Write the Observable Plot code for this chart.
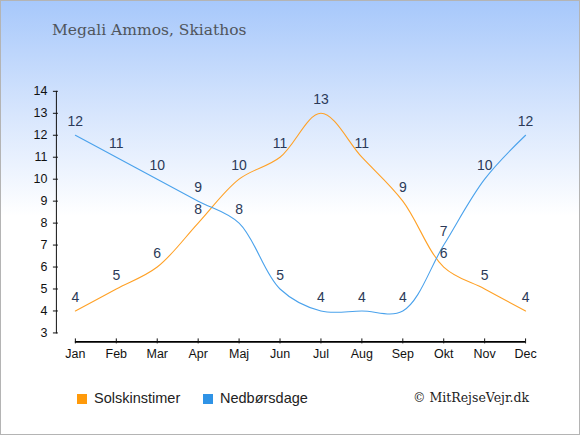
<!DOCTYPE html>
<html>
<head>
<meta charset="utf-8">
<script src="https://cdn.jsdelivr.net/npm/d3@7"></script>
<script src="https://cdn.jsdelivr.net/npm/@observablehq/plot@0.6"></script>
<style>
  html, body { margin: 0; padding: 0; }
  #wrap {
    position: relative; width: 578px; height: 433px;
    border: 1px solid #b4b4b4;
    background: linear-gradient(#a7c8fb 0px, #d6e5fd 110px, #ffffff 215px, #ffffff 100%);
    overflow: hidden;
  }
  #title {
    position: absolute; left: 51px; top: 20px;
    font-family: "DejaVu Serif", serif; font-size: 15.5px; color: #50555c;
  }
  #chart { position: absolute; left: -1px; top: -1px; }
  .leg { position: absolute; top: 389px; font-family: "Liberation Sans", Arial, sans-serif; font-size: 14.5px; color: #222; }
  .sw { display: inline-block; width: 10px; height: 10px; margin-right: 7px; vertical-align: -1px; }
  #copy { position: absolute; left: 412px; top: 389px; font-family: "DejaVu Serif", serif; font-size: 12.5px; color: #222; }
</style>
</head>
<body>
<div id="wrap">
  <div id="title">Megali Ammos, Skiathos</div>
  <div id="chart"></div>
  <div class="leg" style="left:76px"><span class="sw" style="background:#ff9a0a"></span>Solskinstimer</div>
  <div class="leg" style="left:202px"><span class="sw" style="background:#2f93e6"></span>Nedbørsdage</div>
  <div id="copy">© MitRejseVejr.dk</div>
</div>
<script>
const months = ["Jan","Feb","Mar","Apr","Maj","Jun","Jul","Aug","Sep","Okt","Nov","Dec"];
const solskinstimer = [4,5,6,8,10,11,13,11,9,6,5,4];
const nedborsdage = [12,11,10,9,8,5,4,4,4,7,10,12];
const yTicks = [3,4,5,6,7,8,9,10,11,12,13,14];

const sun = months.map((m, i) => ({month: m, value: solskinstimer[i]}));
const rain = months.map((m, i) => ({month: m, value: nedborsdage[i]}));
const yMin = yTicks[0];

const orange = "#ffa126";
const blue = "#4aa2ec";
const labelColor = "#2b3a58";

const plot = Plot.plot({
  width: 580,
  height: 370,
  marginLeft: 56,
  marginRight: 55,
  marginTop: 91,
  marginBottom: 37,
  style: { background: "transparent", fontFamily: "Liberation Sans, Arial, sans-serif", fontSize: "12.5px", color: "#111" },
  x: { type: "point", domain: months, range: [75, 526], padding: 0 },
  y: { domain: [yMin, yTicks[yTicks.length - 1]], label: null },
  marks: [
    Plot.frame({ anchor: "left", stroke: "#111" }),
    Plot.axisY(yTicks, { tickSize: 5, dx: 2, tickPadding: 6, stroke: "#111", fill: "#111", label: null }),
    Plot.ruleY([yMin], { dy: 9, insetLeft: 19, insetRight: -1, stroke: "#000", strokeWidth: 1.6 }),
    Plot.axisX({ tickSize: 5, dy: 6, tickPadding: 5, stroke: "#111", fill: "#111", label: null }),
    Plot.line(sun, { x: "month", y: "value", stroke: orange, strokeWidth: 1.1, curve: "catmull-rom" }),
    Plot.line(rain, { x: "month", y: "value", stroke: blue, strokeWidth: 1.1, curve: "catmull-rom" }),
    Plot.text(sun, { x: "month", y: "value", text: "value", dy: -13.5, fill: labelColor, fontSize: 14 }),
    Plot.text(rain, { x: "month", y: "value", text: "value", dy: -13.5, fill: labelColor, fontSize: 14 })
  ]
});
document.getElementById("chart").appendChild(plot);
</script>
</body>
</html>
